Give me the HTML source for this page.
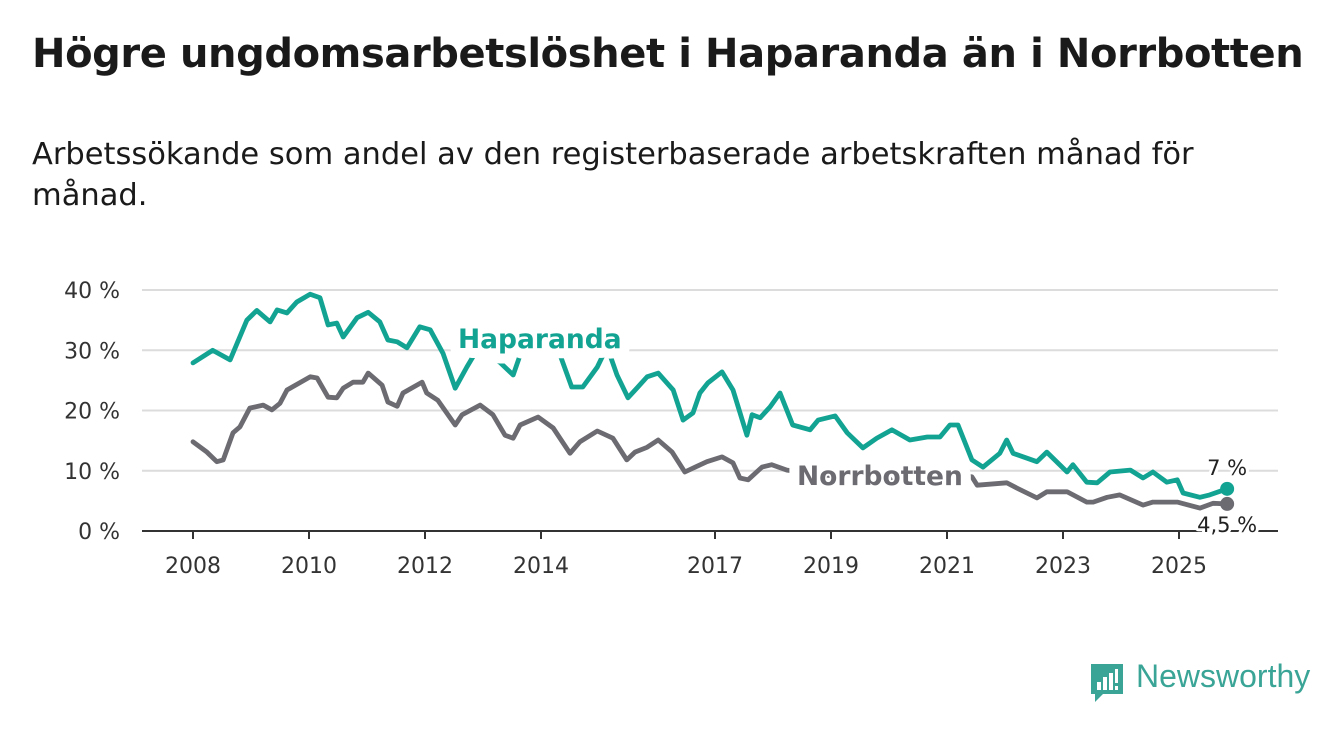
<!DOCTYPE html>
<html><head><meta charset="utf-8"><style>
body{margin:0;width:1340px;height:734px;background:#fff;overflow:hidden;font-family:"DejaVu Sans","Liberation Sans",sans-serif;color:#1a1a1a}
h1{position:absolute;left:32px;top:31px;margin:0;font-size:40px;font-weight:bold;letter-spacing:-0.4px;white-space:nowrap}
.sub{position:absolute;left:32px;top:134px;margin:0;font-size:30.5px;line-height:41px;width:1210px}
svg{position:absolute;left:0;top:0}
</style></head><body>
<h1>Högre ungdomsarbetslöshet i Haparanda än i Norrbotten</h1>
<p class="sub">Arbetssökande som andel av den registerbaserade arbetskraften månad för månad.</p>
<svg width="1340" height="734" id="chart"></svg>
<div style="position:absolute;left:1089px;top:660px;">
<svg width="36" height="42" style="position:absolute;left:0;top:2px"><path d="M2 2h32v30h-20l-8 8v-8h-4z" fill="#3aa597"/><rect x="8" y="20" width="4" height="8" fill="#fff"/><rect x="14" y="15" width="4" height="13" fill="#fff"/><rect x="20" y="11" width="4" height="17" fill="#fff"/><rect x="26" y="7" width="3" height="14" fill="#fff"/><rect x="26" y="24" width="3" height="4" fill="#fff"/></svg>
<span style="position:absolute;left:47px;top:-2px;font-size:32px;color:#3aa597;font-family:'Liberation Sans',sans-serif;white-space:nowrap">Newsworthy</span></div>
<script>
const hapYears=[0,0.34,0.64,0.93,1.10,1.33,1.45,1.62,1.79,2.02,2.19,2.33,2.48,2.59,2.83,3.02,3.22,3.36,3.52,3.69,3.91,4.09,4.31,4.52,4.72,4.95,5.12,5.29,5.52,5.64,5.98,6.33,6.53,6.72,6.97,7.07,7.19,7.31,7.50,7.67,7.83,8.02,8.28,8.45,8.62,8.74,8.88,9.12,9.31,9.55,9.64,9.78,9.95,10.12,10.34,10.64,10.78,11.07,11.28,11.55,11.79,12.05,12.36,12.66,12.88,13.05,13.19,13.43,13.62,13.91,14.03,14.14,14.55,14.72,15.07,15.17,15.41,15.59,15.81,16.16,16.38,16.55,16.79,16.97,17.07,17.36,17.53,17.83];
const hapValues=[27.9,30.0,28.4,35.0,36.6,34.7,36.7,36.2,38.0,39.3,38.7,34.2,34.5,32.2,35.4,36.3,34.7,31.7,31.4,30.4,33.9,33.4,29.5,23.7,27.2,30.9,29.7,28.0,25.9,29.2,30.0,29.2,23.9,23.9,27.2,29.2,29.2,25.9,22.1,23.9,25.6,26.2,23.4,18.4,19.6,22.9,24.6,26.4,23.4,15.9,19.3,18.8,20.6,22.9,17.6,16.8,18.4,19.1,16.3,13.8,15.4,16.8,15.1,15.6,15.6,17.6,17.6,11.8,10.6,12.9,15.1,12.9,11.5,13.1,9.8,11.0,8.1,8.0,9.8,10.1,8.8,9.8,8.1,8.5,6.3,5.6,6.0,7.0];
const norYears=[0,0.24,0.41,0.52,0.69,0.81,0.98,1.21,1.36,1.50,1.62,2.02,2.14,2.33,2.48,2.59,2.76,2.93,3.02,3.26,3.36,3.52,3.62,3.95,4.03,4.22,4.52,4.64,4.95,5.17,5.38,5.52,5.64,5.95,6.21,6.50,6.67,6.97,7.24,7.48,7.62,7.83,8.02,8.26,8.48,8.66,8.86,9.12,9.31,9.43,9.57,9.81,9.98,10.24,10.47,11.33,12.19,13.05,13.43,13.52,14.03,14.21,14.55,14.72,15.07,15.41,15.52,15.76,15.98,16.38,16.55,16.97,17.36,17.59,17.83];
const norValues=[14.8,13.1,11.5,11.8,16.3,17.3,20.4,20.9,20.1,21.2,23.4,25.6,25.4,22.2,22.1,23.7,24.7,24.7,26.2,24.2,21.4,20.7,22.9,24.7,22.9,21.7,17.6,19.3,20.9,19.3,15.9,15.4,17.6,18.9,17.1,12.9,14.8,16.6,15.4,11.8,13.1,13.9,15.1,13.1,9.8,10.6,11.5,12.3,11.3,8.8,8.5,10.6,11.0,10.1,9.8,8.8,8.5,9.3,9.0,7.6,8.0,7.1,5.5,6.5,6.5,4.8,4.8,5.6,6.0,4.3,4.8,4.8,3.8,4.6,4.5];
const yTicks=[0,10,20,30,40];
const yTickLabels=["0 %","10 %","20 %","30 %","40 %"];
const xTicks=[2008,2010,2012,2014,2017,2019,2021,2023,2025];
const endLabels=["7 %","4,5 %"];
const NS="http://www.w3.org/2000/svg";
const svg=document.getElementById('chart');
const X=t=>193+58*t, Y=v=>531-6.025*v;
function mk(tag,attrs,parent){const e=document.createElementNS(NS,tag);for(const k in attrs)e.setAttribute(k,attrs[k]);(parent||svg).appendChild(e);return e;}
yTicks.forEach((v,i)=>{
  if(v>0){const g=mk('line',{x1:142,x2:1278,y1:Y(v),y2:Y(v),stroke:'#dcdcdc','stroke-width':2});
  
  }
  const t=mk('text',{x:120,y:Y(v)+8,'text-anchor':'end','font-size':22,fill:'#333'});t.textContent=yTickLabels[i];
  
  
});
xTicks.forEach(yr=>{
  const x=X(yr-2008);
  const tk=mk('line',{x1:x,x2:x,y1:531,y2:539,stroke:'#333','stroke-width':2});
  
  
  const t=mk('text',{x:x,y:573,'text-anchor':'middle','font-size':22,fill:'#333'});t.textContent=yr;
  
  
});
function line(ys,vs,col,name){
  const d=ys.map((t,i)=>(i?'L':'M')+X(t).toFixed(1)+' '+Y(vs[i]).toFixed(1)).join('');
  const p=mk('path',{d:d,fill:'none',stroke:col,'stroke-width':4.8,'stroke-linejoin':'round','stroke-linecap':'round'});
  
  
}
line(norYears,norValues,'#6d6b72','norrbotten-line');
line(hapYears,hapValues,'#12a393','haparanda-line');
const ax=mk('line',{x1:142,x2:1278,y1:531,y2:531,stroke:'#333','stroke-width':2});


function label(x,y,txt,col,size,w,anchor,name,sw){
  const t=mk('text',{x:x,y:y,'font-size':size,'font-weight':w,fill:col,stroke:'#fff','stroke-width':sw,'paint-order':'stroke','stroke-linejoin':'round','text-anchor':anchor});
  t.textContent=txt;
  
  
}
label(458,348,'Haparanda','#12a393',26.5,'bold','start','haparanda-label',20);
label(797,485,'Norrbotten','#6d6b72',26.5,'bold','start','norrbotten-label',20);
const lx=X(hapYears[hapYears.length-1]);
const d1=mk('circle',{cx:lx,cy:Y(norValues[norValues.length-1]),r:7,fill:'#6d6b72'});


const d2=mk('circle',{cx:lx,cy:Y(hapValues[hapValues.length-1]),r:7,fill:'#12a393'});


label(lx,Y(hapValues[hapValues.length-1])-14,endLabels[0],'#222',21,'normal','middle','haparanda-end-value',6);
label(lx,Y(norValues[norValues.length-1])+28,endLabels[1],'#222',21,'normal','middle','norrbotten-end-value',6);
</script>
</body></html>
